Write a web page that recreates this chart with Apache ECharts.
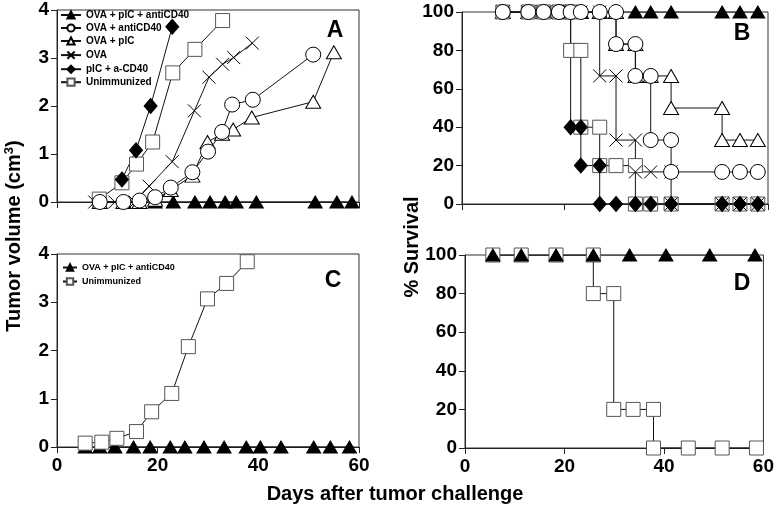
<!DOCTYPE html>
<html>
<head>
<meta charset="utf-8">
<script src="https://cdn.jsdelivr.net/npm/echarts@6/dist/echarts.min.js"></script>
<style>
  html, body { margin: 0; padding: 0; background: #fff; }
  #main { width: 777px; height: 508px; }
</style>
</head>
<body>
<div id="main"></div>
<script>
// 组名
const groupNames = ['OVA + pIC + antiCD40', 'OVA + antiCD40', 'OVA + pIC', 'OVA', 'pIC + a-CD40', 'Unimmunized'];
const xTicks = [0, 20, 40, 60];

// A: 肿瘤体积
const aTriDays = [19.5, 23.1, 27.4, 30.4, 33.4, 35.6, 39.6, 51.3, 55.6, 58.6];
const aTriVol = [0, 0, 0, 0, 0, 0, 0, 0, 0, 0];
const aCircDays = [8.5, 13.2, 16.4, 19.5, 22.6, 26.9, 30.0, 32.8, 34.8, 38.9, 50.9];
const aCircVol = [0, 0, 0.03, 0.1, 0.3, 0.62, 1.05, 1.46, 2.03, 2.13, 3.07];
const aOTriDays = [8.5, 13.2, 16.4, 19.5, 22.6, 26.9, 29.9, 32.8, 35.0, 38.7, 50.9, 55.0];
const aOTriVol = [0, 0, 0, 0.05, 0.25, 0.55, 1.25, 1.42, 1.51, 1.76, 2.09, 3.12];
const aXDays = [7.5, 11.5, 15.5, 18.3, 22.9, 27.3, 30.2, 32.9, 35.1, 38.8];
const aXVol = [0, 0, 0, 0.33, 0.84, 1.9, 2.6, 2.87, 3.01, 3.31];
const aDiaDays = [12.9, 15.7, 18.6, 22.9];
const aDiaVol = [0.47, 1.08, 2.0, 3.65];
const aSqDays = [8.4, 12.9, 15.8, 19.0, 23.0, 27.4, 32.9];
const aSqVol = [0.06, 0.4, 0.79, 1.25, 2.69, 3.18, 3.78];

// B: 生存率
const bTriDays = [8, 13, 16, 19, 21.3, 23.3, 27, 30.2, 34, 37, 41, 51, 54.5, 58];
const bTriSurv = [100, 100, 100, 100, 100, 100, 100, 100, 100, 100, 100, 100, 100, 100];
const bCircDays = [8, 13, 16, 19, 21.3, 23.3, 27, 30.2, 30.2, 34, 34, 37, 37, 41, 41, 51, 54.5, 58];
const bCircSurv = [100, 100, 100, 100, 100, 100, 100, 100, 83.3, 83.3, 66.7, 66.7, 33.3, 33.3, 16.7, 16.7, 16.7, 16.7];
const bOTriDays = [8, 13, 16, 19, 21.3, 23.3, 27, 30.2, 30.2, 34, 34, 37, 41, 41, 51, 51, 54.5, 58];
const bOTriSurv = [100, 100, 100, 100, 100, 100, 100, 100, 83.3, 83.3, 66.7, 66.7, 66.7, 50, 50, 33.3, 33.3, 33.3];
const bXDays = [8, 13, 16, 19, 21.3, 23.3, 27, 27, 30.2, 30.2, 34, 34, 37, 41, 41, 51, 54.5, 58];
const bXSurv = [100, 100, 100, 100, 100, 100, 100, 66.7, 66.7, 33.3, 33.3, 16.7, 16.7, 16.7, 0, 0, 0, 0];
const bDiaDays = [8, 13, 16, 19, 21.3, 21.3, 23.3, 23.3, 27, 27, 30.2, 34, 37, 41, 51, 54.5, 58];
const bDiaSurv = [100, 100, 100, 100, 100, 40, 40, 20, 20, 0, 0, 0, 0, 0, 0, 0, 0];
const bSqDays = [8, 13, 16, 19, 21.3, 21.3, 23.3, 23.3, 27, 27, 30.2, 34, 34, 37, 41, 51, 54.5, 58];
const bSqSurv = [100, 100, 100, 100, 100, 80, 80, 40, 40, 20, 20, 20, 0, 0, 0, 0, 0, 0];

// C: 肿瘤体积
const cTriDays = [5.6, 8.5, 11.5, 15.2, 18.5, 22.5, 25.4, 29.2, 33.2, 37.6, 40.4, 44.5, 51, 54.3, 58.1];
const cTriVol = [0, 0, 0, 0, 0, 0, 0, 0, 0, 0, 0, 0, 0, 0, 0];
const cSqDays = [5.6, 8.9, 11.9, 15.8, 18.8, 22.8, 26.1, 29.9, 33.7, 37.8];
const cSqVol = [0.08, 0.1, 0.18, 0.32, 0.73, 1.11, 2.08, 3.07, 3.39, 3.84];

// D: 生存率
const dTriDays = [5.6, 11.3, 18.3, 25.8, 33.1, 40.4, 49.2, 58.3];
const dTriSurv = [100, 100, 100, 100, 100, 100, 100, 100];
const dSqDays = [5.6, 11.3, 18.3, 25.8, 25.8, 29.9, 29.9, 33.8, 37.9, 37.9, 44.9, 51.7, 58.6];
const dSqSurv = [100, 100, 100, 100, 80, 80, 20, 20, 20, 0, 0, 0, 0];

const FONT = 'Liberation Sans, Arial, sans-serif';
const xPath = 'path://M0,0L10,10M10,0L0,10';

function zip(xs, ys) {
    return xs.map((x, i) => [x, ys[i]]);
}

// 各符号样式
const styles = {
    tri: { symbol: 'triangle', symbolSize: [14, 12], itemStyle: { color: '#000', borderColor: '#000', borderWidth: 1 } },
    circ: { symbol: 'circle', symbolSize: 15, itemStyle: { color: '#fff', borderColor: '#000', borderWidth: 1 } },
    otri: { symbol: 'triangle', symbolSize: [15, 13], itemStyle: { color: '#fff', borderColor: '#000', borderWidth: 1 } },
    x: { symbol: xPath, symbolSize: 13, itemStyle: { color: 'none', borderColor: '#000', borderWidth: 1 } },
    dia: { symbol: 'diamond', symbolSize: [13, 15], itemStyle: { color: '#000', borderColor: '#000', borderWidth: 1 } },
    sq: { symbol: 'rect', symbolSize: 14, itemStyle: { color: '#fff', borderColor: '#555', borderWidth: 1 } }
};

function mk(name, key, xs, ys, idx) {
    return Object.assign({
        name: name,
        type: 'line',
        xAxisIndex: idx,
        yAxisIndex: idx,
        data: zip(xs, ys),
        showAllSymbol: true,
        animation: false,
        lineStyle: { color: '#111', width: 1 },
        emphasis: { disabled: true }
    }, styles[key]);
}

const series = [
    // A
    mk(groupNames[0], 'tri', aTriDays, aTriVol, 0),
    mk(groupNames[2], 'otri', aOTriDays, aOTriVol, 0),
    mk(groupNames[5], 'sq', aSqDays, aSqVol, 0),
    mk(groupNames[3], 'x', aXDays, aXVol, 0),
    mk(groupNames[1], 'circ', aCircDays, aCircVol, 0),
    mk(groupNames[4], 'dia', aDiaDays, aDiaVol, 0),
    // B
    mk(groupNames[0], 'tri', bTriDays, bTriSurv, 1),
    mk(groupNames[2], 'otri', bOTriDays, bOTriSurv, 1),
    mk(groupNames[5], 'sq', bSqDays, bSqSurv, 1),
    mk(groupNames[3], 'x', bXDays, bXSurv, 1),
    mk(groupNames[4], 'dia', bDiaDays, bDiaSurv, 1),
    mk(groupNames[1], 'circ', bCircDays, bCircSurv, 1),
    // C
    mk(groupNames[0], 'tri', cTriDays, cTriVol, 2),
    mk(groupNames[5], 'sq', cSqDays, cSqVol, 2),
    // D
    mk(groupNames[5], 'sq', dSqDays, dSqSurv, 3),
    mk(groupNames[0], 'tri', dTriDays, dTriSurv, 3)
];

const grids = [
    { left: 57, top: 10, width: 302, height: 192 },
    { left: 462, top: 12, width: 306, height: 192 },
    { left: 57, top: 254, width: 302, height: 193 },
    { left: 465, top: 255, width: 302, height: 193 }
].map(g => Object.assign({ show: true, borderColor: '#333', borderWidth: 1, backgroundColor: 'transparent' }, g));

function xAx(idx, showLabel) {
    return {
        type: 'value', gridIndex: idx, min: xTicks[0], max: xTicks[xTicks.length - 1], interval: 20,
        axisLine: { show: true, onZero: false, lineStyle: { color: '#222' } },
        axisTick: { show: true, length: 6, lineStyle: { color: '#222' } },
        axisLabel: { show: showLabel, fontFamily: FONT, fontWeight: 'bold', fontSize: 19, color: '#000', margin: 9 },
        splitLine: { show: false }
    };
}
function yAx(idx, max, interval) {
    return {
        type: 'value', gridIndex: idx, min: 0, max: max, interval: interval,
        axisLine: { show: true, onZero: false, lineStyle: { color: '#222' } },
        axisTick: { show: true, length: 6, lineStyle: { color: '#222' } },
        axisLabel: { fontFamily: FONT, fontWeight: 'bold', fontSize: 19, color: '#000', margin: 8 },
        splitLine: { show: false }
    };
}

const txt = (x, y, text, size, rot, rich) => ({
    type: 'text', x: x, y: y, rotation: rot || 0,
    style: { text: text, fontFamily: FONT, fontWeight: 'bold', fontSize: size, fill: '#000', align: 'center', verticalAlign: 'middle', rich: rich }
});

const chart = echarts.init(document.getElementById('main'));
chart.setOption({
    backgroundColor: '#fff',
    animation: false,
    grid: grids,
    xAxis: [xAx(0, false), xAx(1, false), xAx(2, true), xAx(3, true)],
    yAxis: [yAx(0, 4, 1), yAx(1, 100, 20), yAx(2, 4, 1), yAx(3, 100, 20)],
    legend: [
        {
            data: groupNames, orient: 'vertical', left: 60, top: 10, padding: 0,
            itemWidth: 20, itemHeight: 9, itemGap: 3,
            selectedMode: false,
            textStyle: { fontFamily: FONT, fontWeight: 'bold', fontSize: 10, color: '#000' }
        },
        {
            data: [groupNames[0], groupNames[5]], orient: 'vertical', left: 62, top: 263, padding: 0,
            itemWidth: 14, itemHeight: 8, itemGap: 5,
            selectedMode: false,
            textStyle: { fontFamily: FONT, fontWeight: 'bold', fontSize: 9, color: '#000' }
        }
    ],
    graphic: [
        txt(335, 31, 'A', 23),
        txt(742, 34, 'B', 23),
        txt(333, 281, 'C', 23),
        txt(742, 284, 'D', 23),
        txt(14, 236, 'Tumor volume (cm{sup|3})', 20, Math.PI / 2, {
            sup: { fontFamily: FONT, fontWeight: 'bold', fontSize: 13, padding: [0, 0, 9, 0] }
        }),
        txt(412, 247, '% Survival', 20, Math.PI / 2),
        txt(395, 494, 'Days after tumor challenge', 20)
    ],
    series: series
});
</script>
</body>
</html>
